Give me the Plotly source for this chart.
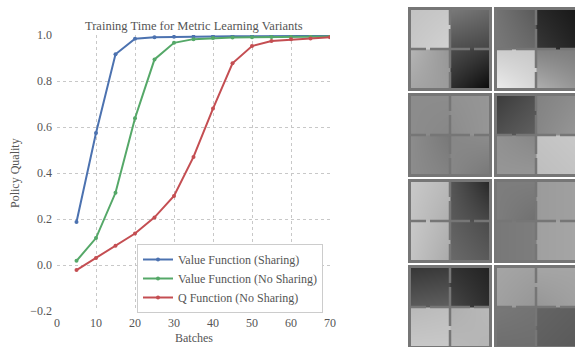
import plotly.graph_objects as go

# ---------------- data: line chart ----------------
batches = [5, 10, 15, 20, 25, 30, 35, 40, 45, 50, 55, 60, 65, 70]
value_sharing = [0.187, 0.574, 0.916, 0.984, 0.99, 0.992, 0.993, 0.994, 0.995, 0.995, 0.995, 0.996, 0.996, 0.996]
value_no_sharing = [0.018, 0.117, 0.314, 0.638, 0.894, 0.966, 0.982, 0.987, 0.989, 0.99, 0.991, 0.992, 0.993, 0.994]
q_no_sharing = [-0.022, 0.03, 0.084, 0.137, 0.207, 0.30, 0.47, 0.68, 0.877, 0.952, 0.974, 0.981, 0.985, 0.99]
series_names = ["Value Function (Sharing)", "Value Function (No Sharing)", "Q Function (No Sharing)"]
series_colors = ["#4c72b0", "#55a868", "#c44e52"]
x_ticks = [0, 10, 20, 30, 40, 50, 60, 70]
y_ticks = [-0.2, 0.0, 0.2, 0.4, 0.6, 0.8, 1.0]

# ---------------- data: four-room value maps (gray levels 0-255) ----------------
# each tile: 4x4 corner values; rows = top/bottom edges of top rooms, then of bottom rooms
# cols = left/right edges of left rooms, then of right rooms
tile_a = [[195, 200, 120, 105], [200, 210, 80, 70], [180, 150, 75, 55], [165, 155, 45, 10]]
tile_b = [[115, 90, 40, 25], [120, 105, 55, 35], [205, 200, 130, 125], [235, 215, 175, 150]]
tile_c = [[140, 140, 145, 150], [140, 135, 140, 150], [140, 120, 135, 140], [140, 130, 135, 120]]
tile_d = [[60, 80, 130, 140], [80, 95, 135, 150], [145, 135, 195, 200], [150, 150, 190, 195]]
tile_e = [[200, 185, 85, 40], [195, 175, 90, 70], [200, 180, 95, 75], [195, 170, 105, 90]]
tile_f = [[125, 125, 155, 160], [125, 112, 155, 160], [120, 125, 160, 165], [120, 125, 160, 165]]
tile_g = [[55, 60, 50, 35], [90, 95, 70, 45], [185, 190, 175, 185], [200, 200, 185, 180]]
tile_h = [[165, 160, 165, 165], [160, 150, 150, 160], [120, 115, 100, 95], [110, 110, 95, 90]]
tiles = [tile_a, tile_b, tile_c, tile_d, tile_e, tile_f, tile_g, tile_h]

# ---------------- layout constants ----------------
W, H = 575, 347
FONT = "Liberation Serif"
TXT = "#555555"
plot_l, plot_r, plot_t, plot_b = 57, 330, 35, 311

fig = go.Figure()

for name, color, ys in zip(series_names, series_colors, [value_sharing, value_no_sharing, q_no_sharing]):
    fig.add_trace(go.Scatter(
        x=batches, y=ys, name=name, mode="lines+markers",
        line=dict(color=color, width=2),
        marker=dict(color=color, size=4, symbol="circle"),
        xaxis="x", yaxis="y",
    ))

def label(text, x, y, angle=0, size=12):
    return dict(text=text, xref="paper", yref="paper", x=x / W, y=1 - y / H,
                xanchor="center", yanchor="middle", showarrow=False, textangle=angle,
                font=dict(family=FONT, size=size, color=TXT))

layout = dict(
    width=W, height=H,
    margin=dict(l=0, r=0, t=0, b=0, autoexpand=False),
    paper_bgcolor="white", plot_bgcolor="white",
    font=dict(family=FONT, size=12, color=TXT),
    showlegend=True,
    legend=dict(
        x=137 / W, y=1 - 244 / H, xanchor="left", yanchor="top",
        bgcolor="white", bordercolor="#cccccc", borderwidth=1,
        font=dict(family=FONT, size=12, color=TXT),
        tracegroupgap=0,
    ),
    xaxis=dict(
        domain=[plot_l / W, plot_r / W], range=[0, 70],
        tickvals=x_ticks, ticktext=[str(v) for v in x_ticks],
        showgrid=True, gridcolor="#c8c8c8", griddash="dot", gridwidth=1,
        zeroline=False, showline=False, ticks="", automargin=False,
        ticklabelstandoff=3,
        tickfont=dict(family=FONT, size=12, color=TXT),
        anchor="y",
    ),
    yaxis=dict(
        domain=[1 - plot_b / H, 1 - plot_t / H], range=[-0.2, 1.0],
        tickvals=y_ticks, tickformat=".1f",
        showgrid=True, gridcolor="#c8c8c8", griddash="dot", gridwidth=1,
        zeroline=False, showline=False, ticks="", automargin=False,
        ticklabelstandoff=4,
        tickfont=dict(family=FONT, size=12, color=TXT),
        anchor="x",
    ),
    annotations=[
        label("Training Time for Metric Learning Variants", (plot_l + plot_r) / 2, 26, size=12.5),
        label("Batches", (plot_l + plot_r) / 2, 338),
        label("Policy Quality", 15, (plot_t + plot_b) / 2, angle=-90),
    ],
    shapes=[],
)

# ---------------- tiles ----------------
S = 84
centers = [3, 41, 43, 81]
WALL = "#767676"
door_v = [20, 63]   # doorway centres along the vertical wall (y)
door_h = [20, 64]   # doorway centres along the horizontal wall (x)
door_w = 4
mid = 42

def segments(doors, lo, hi):
    pts = [lo]
    for d in doors:
        pts += [d - door_w / 2, d + door_w / 2]
    pts.append(hi)
    return [(pts[i], pts[i + 1]) for i in range(0, len(pts), 2)]

for i, z in enumerate(tiles):
    r, c = divmod(i, 2)
    n = i + 2
    left = 408 + 86 * c
    top = 7 + 86 * r
    right = min(left + S, W)
    bottom = min(top + S, H)
    xr = right - left
    yr = bottom - top
    layout[f"xaxis{n}"] = dict(domain=[left / W, right / W], range=[0, xr], visible=False,
                               anchor=f"y{n}", fixedrange=True, automargin=False)
    layout[f"yaxis{n}"] = dict(domain=[1 - bottom / H, 1 - top / H], range=[yr, 0], visible=False,
                               anchor=f"x{n}", fixedrange=True, automargin=False)
    fig.add_trace(go.Heatmap(
        z=z, x=centers, y=centers, zmin=0, zmax=255, zsmooth="best",
        colorscale=[[0, "black"], [1, "white"]], showscale=False,
        hoverinfo="skip", xaxis=f"x{n}", yaxis=f"y{n}", showlegend=False,
    ))
    xref, yref = f"x{n}", f"y{n}"
    layout["shapes"].append(dict(type="rect", xref=xref, yref=yref, x0=1.5, x1=S - 1.5,
                                 y0=1.5, y1=S - 1.5, line=dict(color=WALL, width=3)))
    for a, b in segments(door_v, 1.5, S - 1.5):
        layout["shapes"].append(dict(type="line", xref=xref, yref=yref, x0=mid, x1=mid,
                                     y0=a, y1=b, line=dict(color=WALL, width=2.5)))
    for a, b in segments(door_h, 1.5, S - 1.5):
        layout["shapes"].append(dict(type="line", xref=xref, yref=yref, x0=a, x1=b,
                                     y0=mid, y1=mid, line=dict(color=WALL, width=2.5)))

fig.update_layout(**layout)
fig.write_html("out.html", config={"displayModeBar": False},
               post_script="document.body.style.margin='0';")
